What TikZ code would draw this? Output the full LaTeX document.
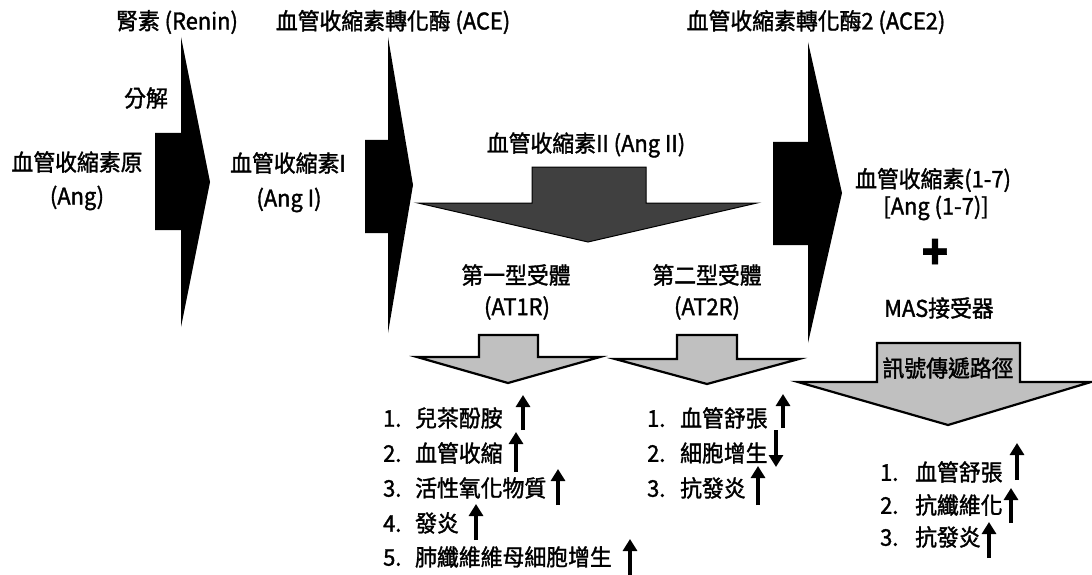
\documentclass[tikz,border=0pt]{standalone}
\usepackage{fontspec}
\setmainfont{Noto Sans CJK TC}[FakeStretch=0.95,FakeBold=1.5]
\usetikzlibrary{arrows.meta}
\definecolor{darkfill}{HTML}{404040}
\definecolor{lightfill}{HTML}{C0C0C0}
\tikzset{
  txt/.style={inner sep=0pt, font=\fontsize{23}{27}\selectfont},
  lst/.style={txt, anchor=west},
  blackarrow/.style={fill=black, draw=none},
  darkarrow/.style={fill=darkfill, draw=black, line width=1pt},
  lightarrow/.style={fill=lightfill, draw=black, line width=2.2pt, line join=miter},
  uparr/.style={line width=3.3pt, -{Triangle[width=14pt,length=12pt]}},
}
\begin{document}
\begin{tikzpicture}[x=1pt,y=-1pt]
\useasboundingbox (0,0) rectangle (1092,575);
% black arrows
\fill[blackarrow] (155,133) -- (181,133) -- (181,37) -- (210,182) -- (181,327) -- (181,230) -- (155,230) -- cycle;
\fill[blackarrow] (365,140) -- (388,140) -- (388,37) -- (413,185) -- (388,333) -- (388,233) -- (365,233) -- cycle;
\fill[blackarrow] (773,142) -- (808,142) -- (808,42) -- (842,193) -- (808,343) -- (808,245) -- (773,245) -- cycle;
% dark arrow Ang II
\filldraw[darkarrow] (532,167) -- (646,167) -- (646,203) -- (757,203) -- (588,242) -- (418,203) -- (532,203) -- cycle;
% light arrows
\filldraw[lightarrow] (479,335) -- (538,335) -- (538,357) -- (600,357) -- (508,383) -- (417,357) -- (479,357) -- cycle;
\filldraw[lightarrow] (677,335) -- (737,335) -- (737,359) -- (799,359) -- (707,384) -- (615,359) -- (677,359) -- cycle;
\filldraw[lightarrow] (877,343) -- (1020,343) -- (1020,382) -- (1091,382) -- (948,425) -- (798,382) -- (877,382) -- cycle;
% top labels
\node[txt] (renin) at (177,22) {腎素 (Renin)};
\node[txt] (ace) at (393,22) {血管收縮素轉化酶 (ACE)};
\node[txt] (ace2) at (816,22) {血管收縮素轉化酶2 (ACE2)};
\node[txt] (fenjie) at (146,98) {分解};
% substances
\node[txt] (ang1) at (77,162) {血管收縮素原};
\node[txt] (ang2) at (77,198) {(Ang)};
\node[txt] (angi1) at (288,163) {血管收縮素I};
\node[txt] (angi2) at (289,200) {(Ang I)};
\node[txt] (angii) at (586,145) {血管收縮素II (Ang II)};
\node[txt] (at1a) at (516,275) {第一型受體};
\node[txt] (at1b) at (517,308) {(AT1R)};
\node[txt] (at2a) at (707,275) {第二型受體};
\node[txt] (at2b) at (707,308) {(AT2R)};
\node[txt] (a17a) at (933,180) {血管收縮素(1-7)};
\node[txt] (a17b) at (936,208) {[Ang (1-7)]};
\node[txt, font=\fontsize{46}{48}\selectfont\bfseries] (plus) at (935,254) {+};
\node[txt] (mas) at (939,308) {MAS接受器};
\node[txt] (signal) at (948,368) {訊號傳遞路徑};
% AT1R list
\node[lst] (l11) at (383,418) {\makebox[32pt][l]{1.}兒茶酚胺};
\node[lst] (l12) at (383,453) {\makebox[32pt][l]{2.}血管收縮};
\node[lst] (l13) at (383,488) {\makebox[32pt][l]{3.}活性氧化物質};
\node[lst] (l14) at (383,523) {\makebox[32pt][l]{4.}發炎};
\node[lst] (l15) at (383,557) {\makebox[32pt][l]{5.}肺纖維維母細胞增生};
\draw[uparr] (523,430) -- (523,395);
\draw[uparr] (516,472) -- (516,432);
\draw[uparr] (558,505) -- (558,469);
\draw[uparr] (476,540) -- (476,504);
\draw[uparr] (630,576) -- (630,539);
% AT2R list
\node[lst] (l21) at (647,418) {\makebox[33pt][l]{1.}血管舒張};
\node[lst] (l22) at (647,453) {\makebox[33pt][l]{2.}細胞增生};
\node[lst] (l23) at (647,488) {\makebox[33pt][l]{3.}抗發炎};
\draw[uparr] (783,428) -- (783,394);
\draw[uparr] (776,430) -- (776,467);
\draw[uparr] (758,505) -- (758,466);
% MAS list
\node[lst] (l31) at (880,472) {\makebox[35pt][l]{1.}血管舒張};
\node[lst] (l32) at (880,505) {\makebox[35pt][l]{2.}抗纖維化};
\node[lst] (l33) at (880,537) {\makebox[35pt][l]{3.}抗發炎};
\draw[uparr] (1017,480) -- (1017,443);
\draw[uparr] (1011,523) -- (1011,488);
\draw[uparr] (989,558) -- (989,522);
\end{tikzpicture}
\end{document}
